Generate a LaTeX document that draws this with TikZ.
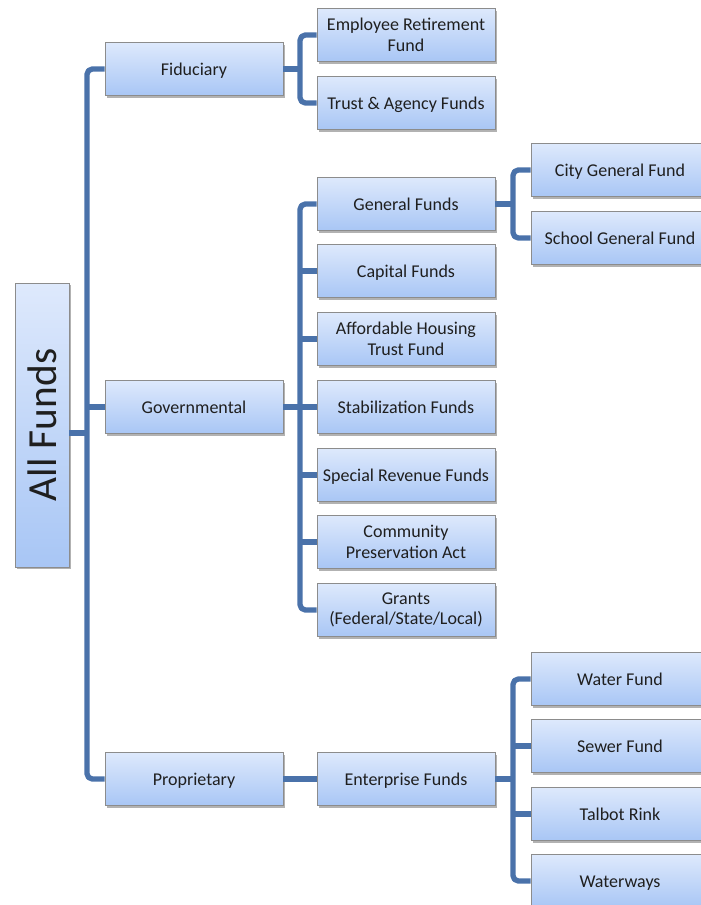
\documentclass[tikz,border=0pt]{standalone}
\usepackage{fontspec}
\setmainfont{Carlito}
\usetikzlibrary{shadows}
\definecolor{linec}{RGB}{74,114,170}
\definecolor{topc}{RGB}{222,233,252}
\definecolor{botc}{RGB}{168,198,245}
\definecolor{bordc}{RGB}{140,140,140}
\begin{document}
\begin{tikzpicture}[x=0.75pt,y=-0.75pt,
  fbox/.style={draw=bordc, line width=0.6pt, top color=topc, bottom color=botc,
    minimum width=133.5pt, minimum height=40pt, inner sep=1pt, align=center,
    font=\fontsize{13.5}{15.5}\selectfont, text=black!88,
    drop shadow={shadow xshift=1.5pt, shadow yshift=-1.8pt, opacity=0.3, fill=black}},
  sbox/.style={fbox, text height=9.5pt, text depth=0pt},
  allbox/.style={fbox, minimum width=40.5pt, minimum height=213pt,
    font=\fontsize{31}{36}\selectfont},
  conn/.style={draw=linec, line width=4pt, rounded corners=4pt, line join=round}]
\useasboundingbox (0,0) rectangle (700,905);

% root
\node[allbox] (allf) at (42,425) {\rotatebox{90}{All Funds}};

% level 1
\node[sbox] (fid) at (194,69) {Fiduciary};
\node[sbox] (gov) at (194,407) {Governmental};
\node[sbox] (prop) at (194,779) {Proprietary};

% level 2
\node[fbox] (erf) at (406,35) {Employee Retirement\\Fund};
\node[sbox] (taf) at (406,103) {Trust \& Agency Funds};
\node[sbox] (genf) at (406,204) {General Funds};
\node[sbox] (capf) at (406,271) {Capital Funds};
\node[fbox] (ahtf) at (406,339) {Affordable Housing\\Trust Fund};
\node[sbox] (stab) at (406,407) {Stabilization Funds};
\node[sbox] (srf) at (406,475) {Special Revenue Funds};
\node[fbox] (cpa) at (406,542) {Community\\Preservation Act};
\node[fbox] (grants) at (406,610) {Grants\\(Federal/State/Local)};
\node[sbox] (entf) at (406,779) {Enterprise Funds};

% level 3
\node[sbox] (cgf) at (620,170) {City General Fund};
\node[sbox] (sgf) at (620,238) {School General Fund};
\node[sbox] (water) at (620,679) {Water Fund};
\node[sbox] (sewer) at (620,746) {Sewer Fund};
\node[sbox] (rink) at (620,814) {Talbot Rink};
\node[sbox] (wways) at (620,881) {Waterways};

% bus coordinates
\coordinate (t) at (87,433);
\coordinate (b2) at (300,0);
\coordinate (b3) at (513,0);

% trunk
\draw[conn] (fid.west) -| (t) |- (prop.west);
\draw[conn] (gov.west) -- (gov.west -| t);
\draw[conn] ([yshift=-6pt]allf.east) -- (t);

% fiduciary
\draw[conn] (erf.west) -| (b2 |- taf.west) -- (taf.west);
\draw[conn] (fid.east) -- (fid.east -| b2);

% governmental
\draw[conn] (genf.west) -| (b2 |- grants.west) -- (grants.west);
\draw[conn] (gov.east) -- (stab.west);
\draw[conn] (capf.west) -- (capf.west -| b2);
\draw[conn] (ahtf.west) -- (ahtf.west -| b2);
\draw[conn] (srf.west) -- (srf.west -| b2);
\draw[conn] (cpa.west) -- (cpa.west -| b2);

% general funds
\draw[conn] (cgf.west) -| (b3 |- sgf.west) -- (sgf.west);
\draw[conn] (genf.east) -- (genf.east -| b3);

% proprietary
\draw[conn] (prop.east) -- (entf.west);
\draw[conn] (water.west) -| (b3 |- wways.west) -- (wways.west);
\draw[conn] (entf.east) -- (entf.east -| b3);
\draw[conn] (sewer.west) -- (sewer.west -| b3);
\draw[conn] (rink.west) -- (rink.west -| b3);
\end{tikzpicture}
\end{document}
